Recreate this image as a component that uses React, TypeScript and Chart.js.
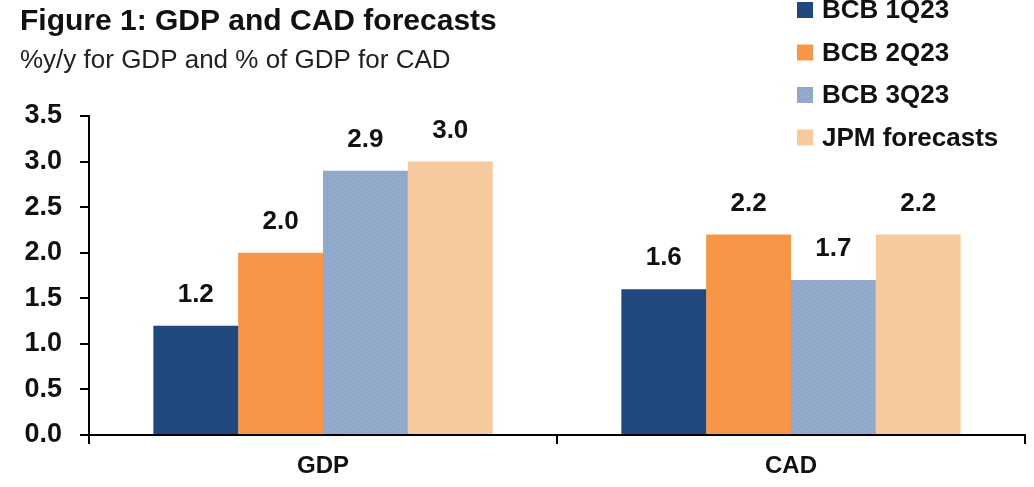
import React, { useEffect, useRef } from "react";
import { Chart, registerables } from "chart.js";

Chart.register(...registerables);

const categories = ["GDP", "CAD"];
const seriesNames = ["BCB 1Q23", "BCB 2Q23", "BCB 3Q23", "JPM forecasts"];
const bcb1Q23 = [1.2, 1.6];
const bcb2Q23 = [2.0, 2.2];
const bcb3Q23 = [2.9, 1.7];
const jpmForecasts = [3.0, 2.2];
const yTicks = [0, 0.5, 1, 1.5, 2, 2.5, 3, 3.5];
const titleText = "Figure 1: GDP and CAD forecasts";
const subtitleText = "%y/y for GDP and % of GDP for CAD";

const FONT = "'Liberation Sans', Arial, sans-serif";

function makePattern(base: string, dot: string): CanvasPattern | string {
  const c = document.createElement("canvas");
  c.width = 4;
  c.height = 4;
  const ctx = c.getContext("2d");
  if (!ctx) return base;
  ctx.fillStyle = base;
  ctx.fillRect(0, 0, 4, 4);
  ctx.fillStyle = dot;
  ctx.fillRect(0, 0, 1, 1);
  ctx.fillRect(2, 2, 1, 1);
  return ctx.createPattern(c, "repeat") || base;
}

const decorPlugin = {
  id: "decor",
  afterDatasetsDraw(chart: any) {
    const ctx = chart.ctx;
    ctx.save();
    // data labels
    ctx.fillStyle = "#111";
    ctx.font = `bold 26px ${FONT}`;
    ctx.textAlign = "center";
    ctx.textBaseline = "middle";
    chart.data.datasets.forEach((ds: any, i: number) => {
      const meta = chart.getDatasetMeta(i);
      meta.data.forEach((bar: any, j: number) => {
        ctx.fillText(Number(ds.data[j]).toFixed(1), bar.x, bar.y - 31);
      });
    });
    // title
    ctx.textAlign = "left";
    ctx.textBaseline = "alphabetic";
    ctx.font = `bold 30px ${FONT}`;
    ctx.fillText(titleText, 20, 30);
    ctx.font = `26px ${FONT}`;
    ctx.fillStyle = "#222";
    ctx.fillText(subtitleText, 20, 68);
    // legend
    ctx.font = `bold 26px ${FONT}`;
    ctx.textBaseline = "middle";
    chart.data.datasets.forEach((ds: any, i: number) => {
      const y = 10 + i * 42.5;
      ctx.fillStyle = ds.backgroundColor;
      ctx.fillRect(797, y - 8, 16, 16);
      ctx.fillStyle = "#111";
      ctx.fillText(ds.label, 822, y + 1);
    });
    ctx.restore();
  },
};

export default function App() {
  const ref = useRef<HTMLCanvasElement>(null);
  useEffect(() => {
    if (!ref.current) return;
    const lightBlue = makePattern("#8DA6CB", "#A9BDDA");
    const peach = makePattern("#FBC797", "#FDD6B0");
    const chart = new Chart(ref.current, {
      type: "bar",
      data: {
        labels: categories,
        datasets: [
          { label: seriesNames[0], data: bcb1Q23, backgroundColor: "#1F497D" },
          { label: seriesNames[1], data: bcb2Q23, backgroundColor: "#F79646" },
          { label: seriesNames[2], data: bcb3Q23, backgroundColor: lightBlue as any },
          { label: seriesNames[3], data: jpmForecasts, backgroundColor: peach as any },
        ],
      },
      options: {
        responsive: false,
        animation: false,
        layout: { padding: { top: 116, right: 9, left: 0, bottom: 0 } },
        datasets: { bar: { barPercentage: 1, categoryPercentage: 0.725 } },
        plugins: {
          legend: { display: false },
          tooltip: { enabled: false },
          title: { display: false },
        },
        scales: {
          x: {
            grid: {
              offset: true,
              drawOnChartArea: false,
              drawTicks: true,
              tickLength: 9,
              color: "#000",
              lineWidth: 2,
            },
            border: { color: "#000", width: 2 },
            ticks: {
              color: "#111",
              font: { family: FONT, size: 24, weight: "bold" },
              padding: 8,
            },
            afterFit(scale: any) {
              scale.height = 52;
            },
          },
          y: {
            min: 0,
            max: 3.5,
            afterBuildTicks(scale: any) {
              scale.ticks = yTicks.map((v) => ({ value: v }));
            },
            grid: {
              drawOnChartArea: false,
              drawTicks: true,
              tickLength: 9,
              color: "#000",
              lineWidth: 2,
            },
            border: { color: "#000", width: 2 },
            ticks: {
              color: "#111",
              font: { family: FONT, size: 27, weight: "bold" },
              padding: 18,
              callback: (v: any) => Number(v).toFixed(1),
            },
            afterFit(scale: any) {
              scale.width = 89;
            },
          },
        },
      },
      plugins: [decorPlugin],
    });
    return () => chart.destroy();
  }, []);
  return (
    <div style={{ position: "fixed", left: 0, top: 0, width: 1034, height: 487, background: "#fff" }}>
      <canvas ref={ref} width={1034} height={487} style={{ display: "block" }} />
    </div>
  );
}
